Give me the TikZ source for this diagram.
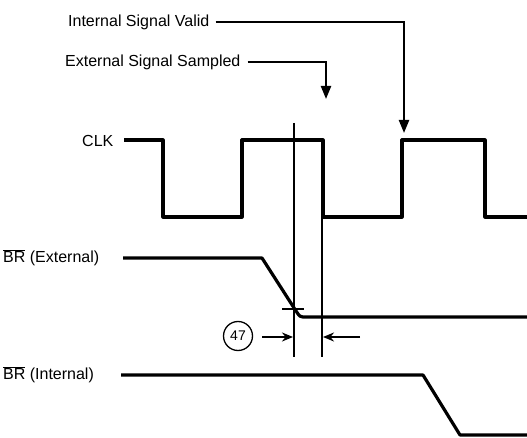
\documentclass[tikz,border=0pt]{standalone}
\usepackage{fontspec}
\setmainfont{Liberation Sans}
\usetikzlibrary{arrows.meta, positioning, calc}

\begin{document}
\begin{tikzpicture}[
    x=1pt, y=-1pt,
    every node/.style={
        font=\fontsize{16}{18}\selectfont,
        inner sep=0pt
    },
    siglabel/.style={anchor=west},
    wave/.style={line width=3.2pt, line join=round},
    guide/.style={line width=1.1pt},
    arrow/.style={
        line width=2.2pt,
        -{Triangle[length=13pt, width=10pt]}
    },
    dim/.style={
        line width=2.2pt,
        -{Stealth[length=11pt, width=9pt]}
    }
]
\useasboundingbox (0,0) rectangle (527,438);

% Nodes
\node[siglabel] (valid)   at (68,22)  {Internal Signal Valid};
\node[siglabel] (sampled) at (65,62)  {External Signal Sampled};
\node[siglabel] (clk)     at (82,141) {CLK};
\node[siglabel] (brext)   at (3,258)  {$\overline{\mbox{BR}}$ (External)};
\node[siglabel] (brint)   at (3,375)  {$\overline{\mbox{BR}}$ (Internal)};
\node[draw, circle, line width=1.3pt, minimum size=29pt,
      font=\fontsize{14}{16}\selectfont] (d47) at (238,336) {47};

% Coordinates
\coordinate (validtip)   at (404,133);
\coordinate (sampledtip) at (326,99);
\coordinate (g1) at (293,337);
\coordinate (g2) at (323,337);
\coordinate (g2tail) at (360,337);

% Waveforms
\draw[wave] (124,140) -- (163,140) -- (163,217) -- (242,217) -- (242,140)
    -- (323,140) -- (323,217) -- (402,217) -- (402,140) -- (485,140)
    -- (485,217) -- (527,217);
\draw[wave] (123,258) -- (262,258) -- (296,311)
    .. controls (300,317) .. (306,317) -- (527,317);
\draw[wave] (121,375) -- (423,375) -- (460,435) -- (527,435);

% Guides
\draw[guide] (294,123) -- (294,357);
\draw[guide] (322,140) -- (322,357);
\draw[line width=2pt] (282,309) -- (304,309);

% Arrows
\draw[arrow] ([xshift=6pt]valid.east) -| (validtip);
\draw[arrow] ([xshift=7pt]sampled.east) -| (sampledtip);
\draw[dim] ([xshift=9pt]d47.east |- g1) -- (g1);
\draw[dim] (g2tail) -- (g2);
\end{tikzpicture}
\end{document}
